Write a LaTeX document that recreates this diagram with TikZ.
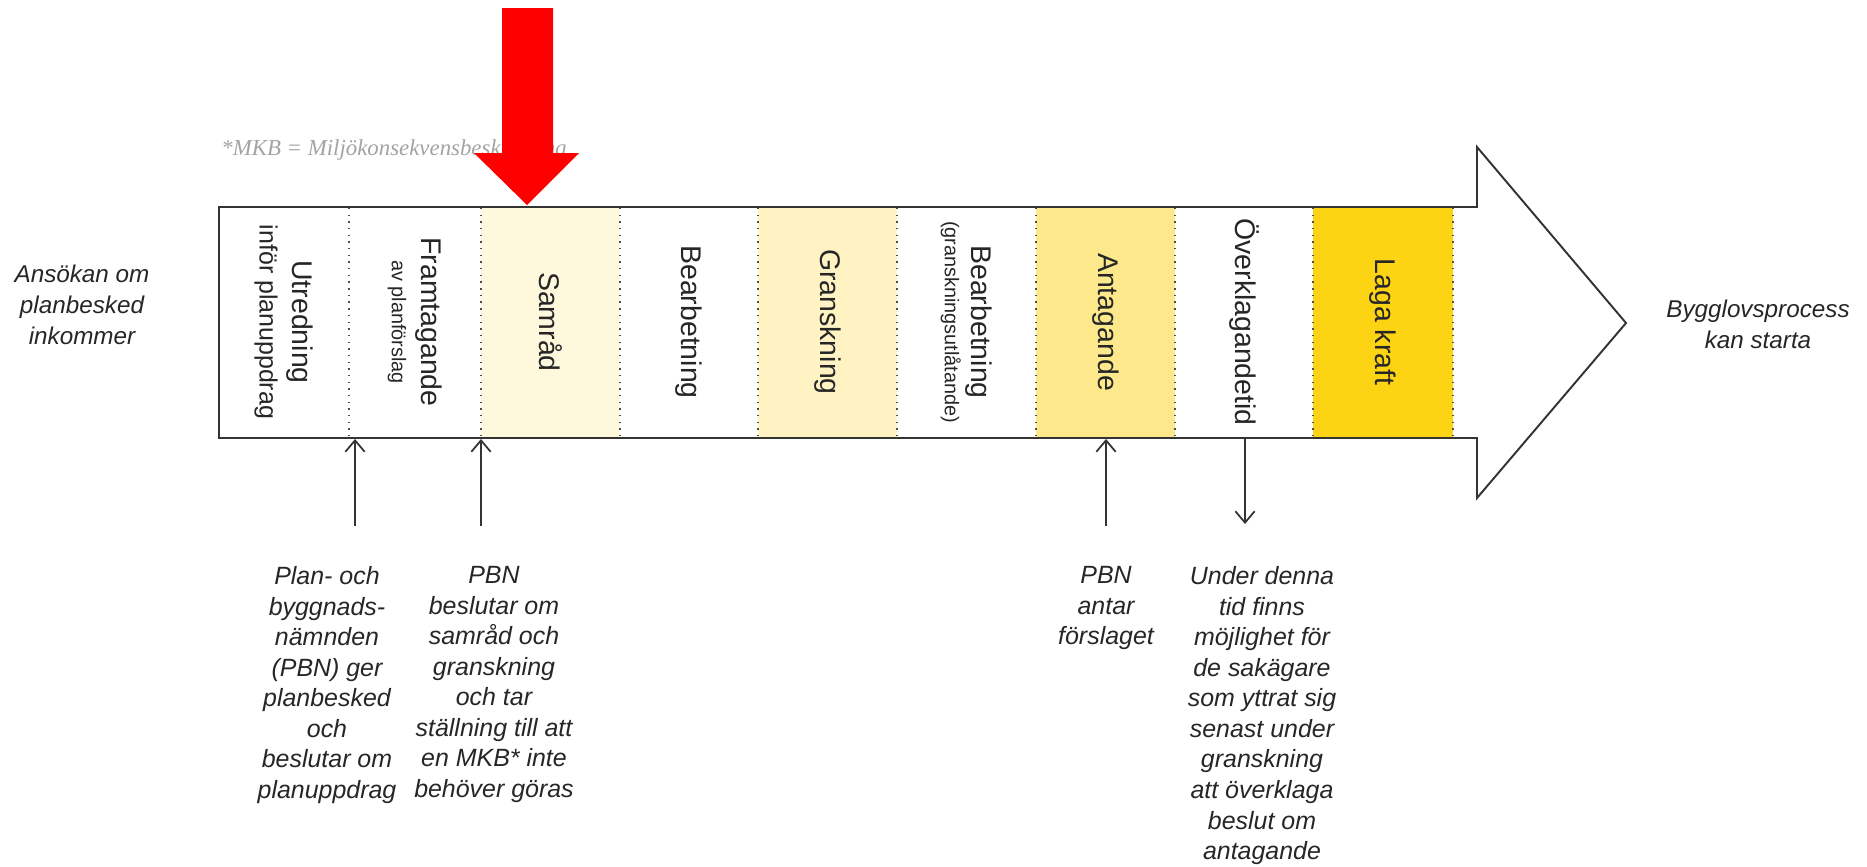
\documentclass[tikz,border=0pt]{standalone}
\usepackage{fontspec}
\setmainfont{Liberation Sans}
\newfontfamily\mkbfont{Liberation Serif}
\usetikzlibrary{positioning,arrows.meta}
\definecolor{SamradCream}{HTML}{FEF8DC}
\definecolor{GranskYellow}{HTML}{FFF3C4}
\definecolor{AntagYellow}{HTML}{FDE98B}
\definecolor{LagaGold}{HTML}{FCD414}
\definecolor{OutlineGray}{HTML}{333333}
\definecolor{MKBGray}{HTML}{A3A3A3}
\definecolor{MarkRed}{HTML}{FF0000}
\newcommand{\phasesub}[1]{{\fontsize{11.3}{13}\selectfont #1}}

\begin{document}
\begin{tikzpicture}[
    x=0.02cm, y=-0.02cm,
    phase/.style={rotate=-90, align=center, inner sep=0pt, text=black!85,
                  font=\fontsize{16.2}{18}\selectfont},
    note/.style={align=center, inner sep=0pt, text=black!85,
                 font=\fontsize{14.2}{17.4}\selectfont\itshape},
    side/.style={align=center, inner sep=0pt, text=black!85,
                 font=\fontsize{13.8}{17.6}\selectfont\itshape},
    mkb/.style={inner sep=0pt, text=MKBGray,
                font=\mkbfont\itshape\fontsize{13}{15}\selectfont},
    divider/.style={black!70, line width=0.8pt, dash pattern=on 0.8pt off 3pt},
    outline/.style={draw=OutlineGray, line width=1.1pt, line join=miter},
    ar/.style={-{Straight Barb[length=6.5pt,width=11pt]}, line width=1pt, black!80},
  ]
    \useasboundingbox (0,0) rectangle (1867,866);

    % ── Footnote and the big red marker ─────────────────────────────────
    \node[mkb, anchor=base west] (mkb) at (221,155) {*MKB = Miljökonsekvensbeskrivning};

    % ── Process arrow: body, phases, dividers, outline ──────────────────
    \fill[white] (219,207) -- (1477,207) -- (1477,147) -- (1626,323)
      -- (1477,498) -- (1477,438) -- (219,438) -- cycle;

    \foreach \xa/\xb/\col/\txt [count=\i] in {
        219/349/white/{Utredning\\[1pt]{\fontsize{14.2}{16}\selectfont inför planuppdrag}},
        349/481/white/{Framtagande\\[-1pt]\phasesub{av planförslag}},
        481/620/SamradCream/{Samråd},
        620/758/white/{Bearbetning},
        758/897/GranskYellow/{Granskning},
        897/1036/white/{Bearbetning\\[-2.7pt]\phasesub{(granskningsutlåtande)}},
        1036/1175/AntagYellow/{Antagande},
        1175/1313/white/{Överklagandetid},
        1313/1453/LagaGold/{Laga kraft}} {
      \fill[\col] (\xa,207) rectangle (\xb,438);
      \node[phase] (ph\i) at ({(\xa+\xb)/2},322) {\txt};
    }

    \foreach \x in {349,481,620,758,897,1036,1175,1313,1453}
      \draw[divider] (\x,208) -- (\x,437);

    \draw[outline] (219,207) -- (1477,207) -- (1477,147) -- (1626,323)
      -- (1477,498) -- (1477,438) -- (219,438) -- cycle;

    \fill[MarkRed] (502,8) -- (553,8) -- (553,153) -- (579,153)
      -- (527,205) -- (474,153) -- (502,153) -- cycle;

    % ── Start and end texts ─────────────────────────────────────────────
    \node[side] (apply)  at (82,305)   {Ansökan om\\planbesked\\inkommer};
    \node[side] (permit) at (1758,324) {Bygglovsprocess\\kan starta};

    % ── Decision arrows under the bar ───────────────────────────────────
    \coordinate (a1) at (355,526);  \coordinate (t1) at (355,439);
    \coordinate (a2) at (481,526);  \coordinate (t2) at (481,439);
    \coordinate (a3) at (1106,526); \coordinate (t3) at (1106,439);
    \coordinate (a4) at (1245,524); \coordinate (t4) at (1245,438);

    \foreach \a/\b in {a1/t1, a2/t2, a3/t3, t4/a4}
      \draw[ar] (\a) -- (\b);

    \node[note, below=8mm of a1, xshift=-5.6mm] (n1)
      {Plan- och\\byggnads-\\nämnden\\(PBN) ger\\planbesked\\och\\beslutar om\\planuppdrag};
    \node[note, below=8mm of a2, xshift=2.6mm] (n2)
      {PBN\\beslutar om\\samråd och\\granskning\\och tar\\ställning till att\\en MKB* inte\\behöver göras};
    \node[note, below=8mm of a3] (n3)
      {PBN\\antar\\förslaget};
    \node[note, below=8.4mm of a4, xshift=3.4mm] (n4)
      {Under denna\\tid finns\\möjlighet för\\de sakägare\\som yttrat sig\\senast under\\granskning\\att överklaga\\beslut om\\antagande};
  \end{tikzpicture}
\end{document}
